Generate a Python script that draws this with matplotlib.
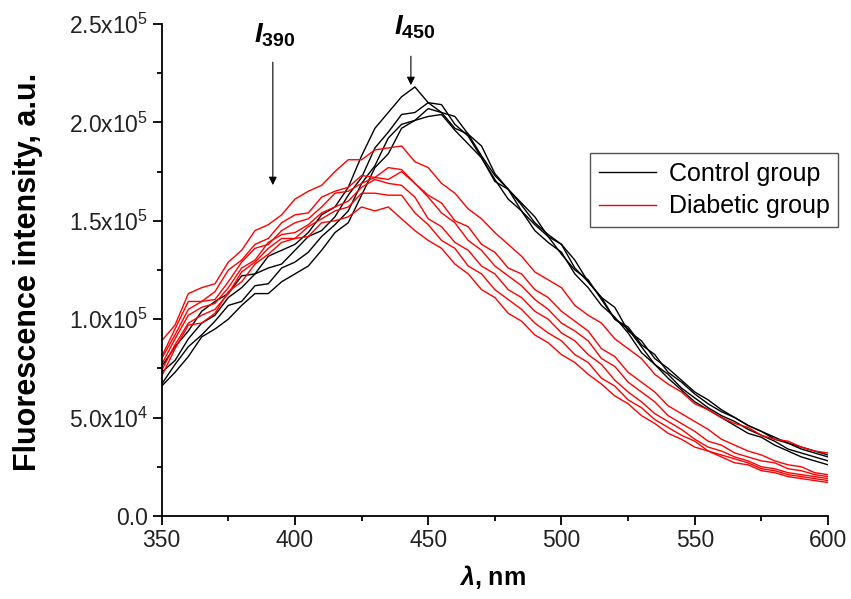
import matplotlib
matplotlib.use("Agg")
import matplotlib.pyplot as plt
import numpy as np
from matplotlib.ticker import FuncFormatter, MultipleLocator

plt.rcParams['font.family'] = ['Liberation Sans', 'DejaVu Sans']
plt.rcParams['mathtext.fontset'] = 'custom'
plt.rcParams['mathtext.rm'] = 'Liberation Sans'
plt.rcParams['mathtext.it'] = 'Liberation Sans:italic:bold'
plt.rcParams['mathtext.bf'] = 'Liberation Sans:bold'
plt.rcParams['mathtext.default'] = 'rm'

# wavelength grid, nm
wavelength = np.arange(350, 601, 5)

# fluorescence spectra, thousands of a.u.
control_1 = [76, 86, 94, 104, 109, 113, 122, 123, 132, 135, 138, 144, 153, 157, 167, 183, 197, 205, 213, 218,
             210, 209, 199, 193, 182, 170, 166, 158, 149, 143, 138, 126, 119, 111, 100, 96, 87, 82, 73, 68,
             62, 57, 53, 50, 46, 43, 39, 37, 34, 32, 30]
control_2 = [73, 79, 90, 98, 102, 111, 116, 123, 126, 128, 135, 142, 145, 152, 163, 172, 187, 195, 204, 205,
             210, 205, 203, 194, 188, 174, 166, 159, 152, 142, 138, 130, 119, 111, 106, 94, 89, 80, 75, 69,
             63, 59, 54, 50, 46, 43, 40, 37, 35, 33, 31]
control_3 = [67, 77, 86, 92, 99, 107, 109, 117, 118, 126, 129, 134, 142, 148, 155, 169, 178, 192, 199, 201,
             207, 205, 197, 194, 183, 173, 166, 155, 148, 142, 133, 125, 120, 110, 100, 95, 86, 77, 72, 65,
             60, 55, 51, 48, 44, 41, 38, 34, 32, 30, 28]
control_4 = [66, 73, 81, 91, 95, 100, 107, 113, 113, 119, 123, 127, 135, 144, 149, 163, 177, 184, 197, 201,
             203, 204, 196, 189, 182, 171, 161, 155, 145, 139, 134, 123, 116, 107, 101, 93, 83, 77, 70, 64,
             58, 54, 50, 46, 42, 40, 36, 33, 30, 28, 26]

diabetic_1 = [89, 97, 113, 116, 118, 129, 135, 145, 148, 153, 161, 165, 168, 175, 181, 181, 186, 187, 188, 180,
              177, 169, 164, 156, 151, 144, 138, 132, 124, 120, 116, 107, 102, 98, 90, 85, 80, 72, 67, 63,
              57, 54, 50, 47, 45, 41, 39, 38, 35, 33, 32]
diabetic_2 = [81, 95, 109, 109, 114, 125, 130, 138, 141, 149, 153, 154, 162, 165, 167, 173, 172, 177, 176, 169,
              163, 159, 150, 147, 138, 134, 126, 123, 115, 111, 104, 99, 94, 85, 81, 73, 68, 63, 56, 52,
              48, 44, 39, 36, 33, 31, 28, 26, 25, 22, 21]
diabetic_3 = [80, 92, 105, 109, 110, 119, 129, 136, 138, 145, 149, 151, 157, 164, 165, 169, 172, 171, 175, 169,
              162, 154, 149, 140, 135, 127, 122, 117, 110, 105, 98, 94, 89, 80, 76, 68, 63, 58, 51, 47,
              43, 38, 36, 32, 30, 28, 27, 24, 23, 21, 20]
diabetic_4 = [77, 90, 102, 106, 108, 116, 126, 130, 139, 143, 144, 148, 154, 157, 160, 167, 171, 169, 168, 162,
              151, 147, 139, 135, 127, 123, 115, 111, 104, 100, 93, 89, 82, 77, 69, 63, 58, 52, 48, 44,
              39, 35, 33, 30, 28, 25, 24, 22, 21, 20, 19]
diabetic_5 = [74, 87, 98, 102, 105, 113, 124, 129, 136, 141, 141, 147, 151, 155, 157, 164, 164, 163, 163, 154,
              148, 140, 136, 127, 123, 115, 110, 105, 98, 93, 89, 82, 78, 70, 66, 59, 55, 49, 45, 41,
              38, 33, 31, 29, 27, 24, 23, 21, 20, 19, 18]
diabetic_6 = [71, 85, 97, 98, 103, 114, 119, 128, 133, 139, 141, 142, 149, 150, 152, 157, 155, 157, 151, 145,
              140, 136, 128, 123, 115, 111, 103, 99, 92, 88, 82, 78, 72, 67, 61, 57, 51, 47, 42, 39,
              35, 33, 30, 27, 26, 23, 22, 20, 19, 18, 17]

control = [control_1, control_2, control_3, control_4]
diabetic = [diabetic_1, diabetic_2, diabetic_3, diabetic_4, diabetic_5, diabetic_6]


def sci_label(v, pos):
    if abs(v) < 1:
        return "0.0"
    if v < 0:
        return ""
    exp = int(np.floor(np.log10(v)))
    return f"{v / 10**exp:.1f}x10$^{exp}$"


fig = plt.figure(figsize=(8.51, 5.99), dpi=100)
ax = fig.add_axes([0.19, 0.1386, 0.783, 0.8214])

for i, s in enumerate(control):
    ax.plot(wavelength, np.array(s) * 1e3, color='black', lw=1.0,
            label="Control group" if i == 0 else None)
for i, s in enumerate(diabetic):
    ax.plot(wavelength, np.array(s) * 1e3, color='#ff0000', lw=1.0,
            label="Diabetic group" if i == 0 else None)

ax.set_xlim(350, 600)
ax.set_ylim(0, 2.5e5)
ax.xaxis.set_major_locator(MultipleLocator(50))
ax.xaxis.set_minor_locator(MultipleLocator(25))
ax.yaxis.set_major_locator(MultipleLocator(5e4))
ax.yaxis.set_minor_locator(MultipleLocator(2.5e4))
ax.yaxis.set_major_formatter(FuncFormatter(sci_label))

for side in ['top', 'right']:
    ax.spines[side].set_visible(False)
for side in ['left', 'bottom']:
    ax.spines[side].set_linewidth(1.3)
ax.tick_params(which='major', direction='out', length=6.5, width=1.3, labelsize=16.5, pad=3,
               labelcolor='#222222')
ax.tick_params(which='minor', direction='out', length=3.5, width=1.3)

ax.set_ylabel("Fluorescence intensity, a.u.", fontsize=22, fontweight='bold')
ax.yaxis.set_label_coords(-0.178, 0.497)
ax.set_xlabel(r"$\mathit{\lambda}$, nm", fontsize=18, fontweight='bold')
ax.xaxis.set_label_coords(0.497, -0.095)

# arrows marking the two emission bands
ax.annotate("", xy=(391.7, 1.667e5), xytext=(391.7, 2.32e5),
            arrowprops=dict(arrowstyle='-|>', color='black', lw=0.8, mutation_scale=12))
ax.annotate("", xy=(443.5, 2.175e5), xytext=(443.5, 2.35e5),
            arrowprops=dict(arrowstyle='-|>', color='black', lw=0.8, mutation_scale=12))
ax.text(392.5, 2.445e5, r"$\mathit{I}_{\mathbf{390}}$", fontsize=20, ha='center', va='center', clip_on=False)
ax.text(445, 2.485e5, r"$\mathit{I}_{\mathbf{450}}$", fontsize=20, ha='center', va='center', clip_on=False)

leg = ax.legend(loc='upper right', bbox_to_anchor=(1.0155, 0.738), fontsize=18,
                frameon=True, fancybox=False, framealpha=1, edgecolor='#555555',
                handlelength=2.3, handletextpad=0.5, borderpad=0.35, labelspacing=0.35,
                borderaxespad=0)
leg.get_frame().set_linewidth(1.0)

fig.savefig("out.png", dpi=100)
